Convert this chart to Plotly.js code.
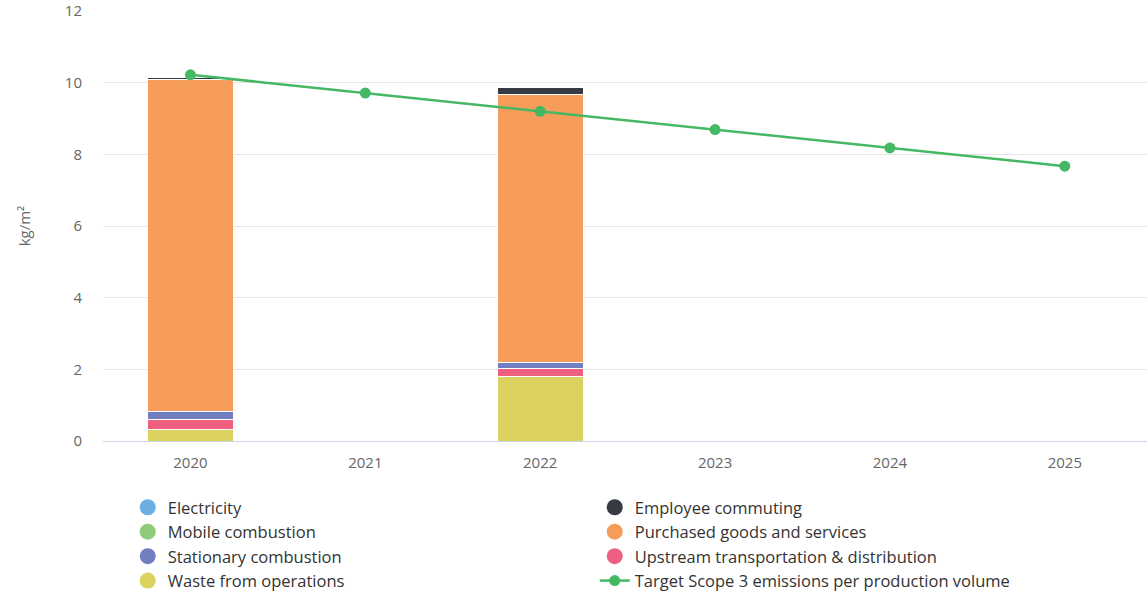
<!DOCTYPE html>
<html>
<head>
<meta charset="utf-8">
<script src="https://cdn.plot.ly/plotly-3.0.1.min.js"></script>
<style>html,body{margin:0;padding:0;background:#fff;}#chart{width:1147px;height:593px;}</style>
</head>
<body>
<div id="chart"></div>
<script>
const years = ['2020', '2021', '2022', '2023', '2024', '2025'];
const wasteFromOperations = [0.31, null, 1.81, null, null, null];
const upstreamTransport = [0.28, null, 0.20, null, null, null];
const stationaryCombustion = [0.22, null, 0.17, null, null, null];
const mobileCombustion = [0, null, 0, null, null, null];
const electricity = [0.01, null, 0.02, null, null, null];
const purchasedGoods = [9.28, null, 7.47, null, null, null];
const employeeCommuting = [0.05, null, 0.20, null, null, null];
const targetScope3 = [10.22, 9.71, 9.20, 8.69, 8.18, 7.67];

const colors = {
  electricity: '#6caee0',
  mobile: '#8ecb7b',
  stationary: '#717fc0',
  waste: '#dcd25f',
  commuting: '#363a42',
  purchased: '#f79d5c',
  upstream: '#ee5f80',
  target: '#45b864'
};

function barTrace(name, values, color) {
  return {
    type: 'bar', name: name, x: years, y: values,
    marker: {color: color, line: {color: '#ffffff', width: 1}},
    showlegend: false, hoverinfo: 'skip'
  };
}
function legendDot(name, color, rank) {
  return {
    type: 'scatter', mode: 'markers', name: name, x: [null], y: [null],
    marker: {color: color, size: 16, symbol: 'circle'},
    legendrank: rank, hoverinfo: 'skip'
  };
}

const data = [
  barTrace('Waste from operations', wasteFromOperations, colors.waste),
  barTrace('Upstream transportation & distribution', upstreamTransport, colors.upstream),
  barTrace('Stationary combustion', stationaryCombustion, colors.stationary),
  barTrace('Mobile combustion', mobileCombustion, colors.mobile),
  barTrace('Electricity', electricity, colors.electricity),
  barTrace('Purchased goods and services', purchasedGoods, colors.purchased),
  barTrace('Employee commuting', employeeCommuting, colors.commuting),
  {
    type: 'scatter', mode: 'lines+markers', name: 'Target Scope 3 emissions per production volume',
    x: years, y: targetScope3,
    line: {color: colors.target, width: 2.5},
    marker: {color: colors.target, size: 11},
    legendrank: 8, hoverinfo: 'skip'
  },
  legendDot('Electricity', colors.electricity, 1),
  legendDot('Employee commuting', colors.commuting, 2),
  legendDot('Mobile combustion', colors.mobile, 3),
  legendDot('Purchased goods and services', colors.purchased, 4),
  legendDot('Stationary combustion', colors.stationary, 5),
  legendDot('Upstream transportation & distribution', colors.upstream, 6),
  legendDot('Waste from operations', colors.waste, 7)
];

const layout = {
  width: 1147, height: 593,
  margin: {l: 103, r: 0, t: 11, b: 152, autoexpand: false},
  paper_bgcolor: '#ffffff', plot_bgcolor: '#ffffff',
  font: {family: 'Open Sans, sans-serif', color: '#666666', size: 15},
  barmode: 'stack', bargap: 0.51,
  showlegend: true,
  xaxis: {
    type: 'category', range: [-0.5, 5.47],
    showgrid: false, zeroline: false, showline: false,
    ticks: '', ticklabelstandoff: 11,
    tickfont: {size: 15, color: '#666666'}, fixedrange: true
  },
  yaxis: {
    range: [0, 12], tickvals: [0, 2, 4, 6, 8, 10, 12],
    showgrid: true, gridcolor: '#e6e6e6', gridwidth: 1,
    zeroline: true, zerolinecolor: '#ccd6eb', zerolinewidth: 1,
    showline: false, ticks: '', ticklabelstandoff: 20,
    tickfont: {size: 15, color: '#666666'},
    title: {text: 'kg/m²', font: {size: 15, color: '#666666'}, standoff: 30},
    fixedrange: true
  },
  legend: {
    orientation: 'h', x: 0.0237, xanchor: 'left', y: -0.114, yanchor: 'top',
    entrywidth: 422, entrywidthmode: 'pixels',
    font: {size: 16.5, color: '#333333'},
    tracegroupgap: 0, itemwidth: 30, traceorder: 'normal',
    bgcolor: 'rgba(0,0,0,0)'
  }
};

Plotly.newPlot('chart', data, layout, {displayModeBar: false, staticPlot: true});
</script>
</body>
</html>
